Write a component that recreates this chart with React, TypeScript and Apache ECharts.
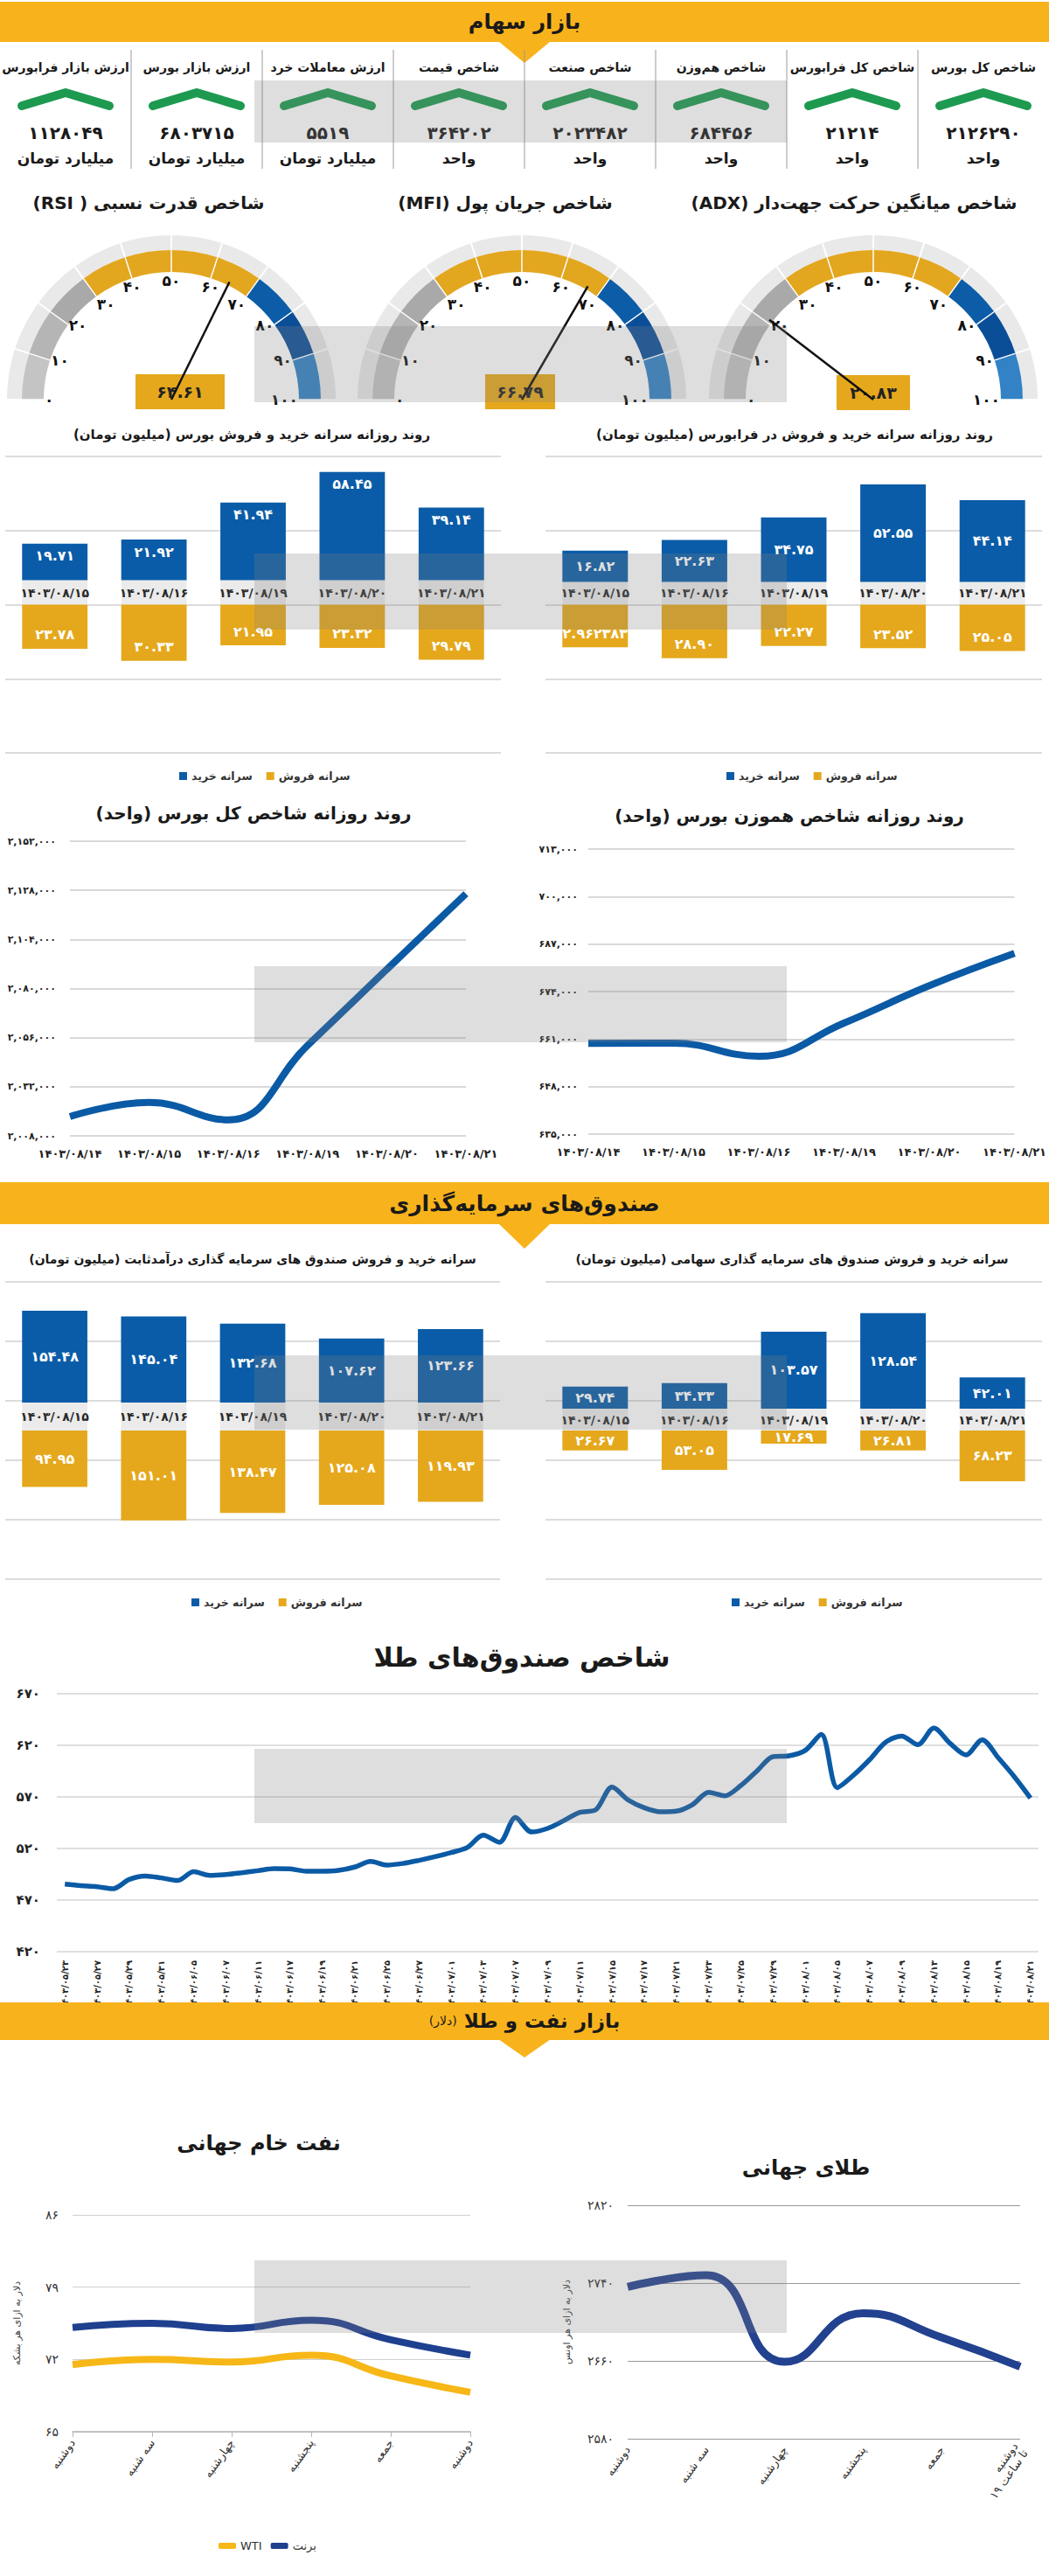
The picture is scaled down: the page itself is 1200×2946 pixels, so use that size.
import React, { useEffect, useRef } from 'react';
import * as echarts from 'echarts';

const W = 1200;
const H = 2946;
const FONT = '"DejaVu Sans", sans-serif';
const BLUE = '#0a5ca8';
const GOLD = '#e5a81c';
const YELLOW = '#f8b31c';
const GREEN = '#1d9a50';
const BUY = 'سرانه خرید';
const SELL = 'سرانه فروش';

// ---------- data ----------
const kpiTitles = ['شاخص کل بورس', 'شاخص کل فرابورس', 'شاخص هم‌وزن', 'شاخص صنعت', 'شاخص قیمت', 'ارزش معاملات خرد', 'ارزش بازار بورس', 'ارزش بازار فرابورس'];
const kpiValues = [2126290, 21214, 684456, 2023482, 364202, 5519, 6803715, 1128049];
const kpiUnits = ['واحد', 'واحد', 'واحد', 'واحد', 'واحد', 'میلیارد تومان', 'میلیارد تومان', 'میلیارد تومان'];

const gaugeTitles = ['شاخص قدرت نسبی ( RSI)', 'شاخص جریان پول (MFI)', 'شاخص میانگین حرکت جهت‌دار (ADX)'];
const gaugeValues = [64.61, 66.79, 20.83];

const tradeDates = ['1403/08/15', '1403/08/16', '1403/08/19', '1403/08/20', '1403/08/21'];
const bourseBuy = [19.71, 21.92, 41.94, 58.45, 39.14];
const bourseSell = [23.78, 30.33, 21.95, 23.32, 29.79];
const faraBuy = [16.82, 22.63, 34.75, 52.55, 44.14];
const faraSell = [22.9623836, 28.9, 22.27, 23.52, 25.05];
const fixedBuy = [154.48, 145.04, 132.68, 107.62, 123.66];
const fixedSell = [94.95, 151.01, 138.47, 125.08, 119.93];
const equityBuy = [29.74, 34.33, 103.57, 128.54, 42.01];
const equitySell = [26.67, 53.05, 17.69, 26.81, 68.23];

const indexDates = ['1403/08/14', '1403/08/15', '1403/08/16', '1403/08/19', '1403/08/20', '1403/08/21'];
const totalIndex = [2017400, 2024300, 2015800, 2052200, 2089300, 2126290];
const equalIndex = [659850, 659900, 656300, 665400, 675600, 684456];

const goldFundDates = ['1403/05/23', '1403/05/24', '1403/05/27', '1403/05/28', '1403/05/29', '1403/05/30', '1403/05/31', '1403/06/03', '1403/06/05', '1403/06/06', '1403/06/07', '1403/06/10', '1403/06/11', '1403/06/14', '1403/06/17', '1403/06/18', '1403/06/19', '1403/06/20', '1403/06/21', '1403/06/24', '1403/06/25', '1403/06/26', '1403/06/27', '1403/06/31', '1403/07/01', '1403/07/02', '1403/07/03', '1403/07/04', '1403/07/07', '1403/07/08', '1403/07/09', '1403/07/10', '1403/07/11', '1403/07/14', '1403/07/15', '1403/07/16', '1403/07/17', '1403/07/18', '1403/07/21', '1403/07/22', '1403/07/23', '1403/07/24', '1403/07/25', '1403/07/28', '1403/07/29', '1403/07/30', '1403/08/01', '1403/08/04', '1403/08/05', '1403/08/06', '1403/08/07', '1403/08/08', '1403/08/09', '1403/08/12', '1403/08/13', '1403/08/14', '1403/08/15', '1403/08/16', '1403/08/19', '1403/08/20', '1403/08/21'];
const goldFundIndex = [485.5, 484, 483, 481, 490, 493.4, 491.5, 489, 497.5, 494, 494.8, 496.5, 498.5, 500.5, 500.2, 498, 498, 498.8, 502, 507.5, 504, 505.5, 508.5, 512, 516, 521, 532.9, 526, 550, 536, 539.5, 547, 555, 557.6, 579.6, 567, 559.5, 555.6, 556.2, 562.5, 574.5, 571, 581, 595, 609, 609.8, 615, 630.5, 579, 591, 606, 623, 629, 620.6, 636.7, 622, 610.7, 625.4, 607.9, 589.5, 568.9];

const oilDays = ['دوشنبه', 'سه شنبه', 'چهارشنبه', 'پنجشنبه', 'جمعه', 'دوشنبه'];
const brent = [75.1, 75.5, 75.0, 75.8, 73.9, 72.42];
const wti = [71.5, 72.0, 71.75, 72.4, 70.4, 68.82];
const goldDays = ['دوشنبه', 'سه شنبه', 'چهارشنبه', 'پنجشنبه', 'جمعه', 'دوشنبه|تا ساعت 19'];
const goldPrice = [2736, 2748, 2659, 2709, 2684, 2654];
const goldLastNote = 2621;

// ---------- helpers ----------
const FA = '۰۱۲۳۴۵۶۷۸۹';
const fa = (s: string | number) => String(s).replace(/[0-9]/g, (d) => FA[+d]);
const rtl = (s: string) => '\u202B' + s + '\u202C';
const fmt = (v: number) => {
  const s = String(v);
  const d = s.includes('.') ? s.split('.')[1].length : 0;
  return d >= 2 ? s : v.toFixed(2);
};
const font = (size: number, weight = 'bold') => `${weight} ${size}px ${FONT}`;
const txt = (text: string, x: number, y: number, size: number, extra: any = {}) => ({
  type: 'text',
  x,
  y,
  z: 10,
  silent: true,
  style: {
    text,
    fill: extra.color || '#1a1a1a',
    font: font(size, extra.weight || 'bold'),
    align: extra.align || 'center',
    verticalAlign: 'middle',
    rich: extra.rich,
  },
});

function buildOption() {
  const grid: any[] = [];
  const xAxis: any[] = [];
  const yAxis: any[] = [];
  const series: any[] = [];
  const legend: any[] = [];
  const graphic: any[] = [];

  // ---------- section headers ----------
  const header = (y0: number, y1: number, apex: number) => {
    graphic.push({ type: 'rect', shape: { x: 0, y: y0, width: W, height: y1 - y0 }, style: { fill: YELLOW }, z: 5, silent: true });
    graphic.push({ type: 'polygon', shape: { points: [[570, y1 - 1], [630, y1 - 1], [600, apex]] }, style: { fill: YELLOW }, z: 5, silent: true });
  };
  header(2, 48, 72);
  graphic.push(txt(rtl('بازار سهام'), 600, 25, 24));
  header(1352, 1400, 1428);
  graphic.push(txt(rtl('صندوق‌های سرمایه‌گذاری'), 600, 1376, 25));
  header(2290, 2333, 2353);
  graphic.push(
    txt('{s|' + rtl('(دلار)') + '} ' + rtl('بازار نفت و طلا'), 600, 2311, 23, {
      rich: { s: { font: font(14, 'normal'), fill: '#1a1a1a' } },
    })
  );

  // ---------- KPI row ----------
  for (let k = 1; k < 8; k++) {
    graphic.push({ type: 'line', shape: { x1: 150 * k, y1: 57, x2: 150 * k, y2: 193 }, style: { stroke: '#9a9a9a', lineWidth: 1 }, z: 5, silent: true });
  }
  kpiTitles.forEach((t, i) => {
    const cx = W - 75 - 150 * i;
    graphic.push(txt(rtl(t), cx, 77, 14));
    graphic.push({
      type: 'polyline',
      shape: { points: [[cx - 50, 121], [cx, 106], [cx + 50, 121]] },
      style: { stroke: GREEN, lineWidth: 10, lineCap: 'round', lineJoin: 'round', fill: null },
      z: 6,
      silent: true,
    });
    graphic.push(txt(fa(kpiValues[i]), cx, 152, 20));
    graphic.push(txt(rtl(kpiUnits[i]), cx, 181, 17));
  });

  // ---------- gauges ----------
  const gaugeCx = [196, 597, 999];
  const gaugeTitleX = [170, 578, 977];
  const detailOff = [[10, -9], [-2, -9], [0, -8]];
  const detailW = [82, 60, 64];
  const bands = [
    [0.1, '#c4c4c4'],
    [0.2, '#b5b5b5'],
    [0.3, '#a9a9a9'],
    [0.7, '#e3a61f'],
    [0.8, '#0d5ca7'],
    [0.9, '#0b4e98'],
    [1, '#3282c5'],
  ];
  gaugeValues.forEach((v, i) => {
    graphic.push(txt(rtl(gaugeTitles[i]), gaugeTitleX[i], 232, 20));
    const base = {
      type: 'gauge',
      center: [gaugeCx[i], 457],
      startAngle: 180,
      endAngle: 0,
      min: 0,
      max: 100,
      splitNumber: 10,
      axisTick: { show: false },
      anchor: { show: false },
      title: { show: false },
    };
    series.push({
      ...base,
      radius: 188,
      axisLine: { lineStyle: { width: 17, color: [[1, '#e9e9e9']] } },
      splitLine: { show: true, length: 17, distance: -17, lineStyle: { color: '#ffffff', width: 2 } },
      axisLabel: { show: false },
      pointer: { show: false },
      detail: { show: false },
      silent: true,
      data: [{ value: 0 }],
    });
    series.push({
      ...base,
      radius: 171,
      axisLine: { lineStyle: { width: 25, color: bands } },
      splitLine: { show: true, length: 25, distance: -25, lineStyle: { color: '#ffffff', width: 1.5 } },
      axisLabel: { show: true, distance: 26, color: '#111', fontSize: 17, fontWeight: 'bold', fontFamily: FONT, formatter: (x: number) => fa(x) },
      pointer: { show: true, icon: 'rect', length: 150, width: 2.5, itemStyle: { color: '#111' } },
      detail: {
        show: true,
        offsetCenter: detailOff[i],
        width: detailW[i],
        height: 30,
        lineHeight: 30,
        backgroundColor: GOLD,
        color: '#222',
        fontSize: 19,
        fontWeight: 'bold',
        fontFamily: FONT,
        formatter: (x: number) => fa(x.toFixed(2)),
      },
      data: [{ value: v }],
    });
  });

  // ---------- stacked buy/sell bar charts ----------
  const addBar = (o: any) => {
    const g = grid.length;
    grid.push({ left: o.left, top: o.top, width: o.width, height: o.height });
    const xi = xAxis.length;
    xAxis.push({ type: 'category', gridIndex: g, data: tradeDates, show: false });
    const yi = yAxis.length;
    yAxis.push({ type: 'value', gridIndex: g, min: -o.range, max: o.range, show: false });
    yAxis.push({
      type: 'value',
      gridIndex: g,
      min: 0,
      max: o.lines,
      interval: 1,
      position: 'left',
      axisLine: { show: false },
      axisTick: { show: false },
      axisLabel: { show: false },
      splitLine: { show: true, lineStyle: { color: '#d0d0d0', width: 1.5 } },
    });
    const stack = 'st' + g;
    series.push({
      type: 'bar',
      name: '_band',
      xAxisIndex: xi,
      yAxisIndex: yi,
      stack,
      barWidth: '66%',
      data: tradeDates.map(() => o.band),
      itemStyle: { color: '#ebebeb' },
      label: { show: true, position: 'inside', formatter: (p: any) => fa(p.name), color: '#2a2a2a', fontSize: 14, fontWeight: 'bold', fontFamily: FONT },
      silent: true,
    });
    series.push({
      type: 'bar',
      name: BUY,
      xAxisIndex: xi,
      yAxisIndex: yi,
      stack,
      barWidth: '66%',
      data: o.buy,
      itemStyle: { color: BLUE },
      label: { show: true, position: o.buyPos, distance: o.buyDist, formatter: (p: any) => fa(fmt(p.value)), color: '#fff', fontSize: 16, fontWeight: 'bold', fontFamily: FONT },
    });
    series.push({
      type: 'bar',
      name: SELL,
      xAxisIndex: xi,
      yAxisIndex: yi,
      stack,
      barWidth: '66%',
      data: o.sell.map((v: number) => -v),
      itemStyle: { color: GOLD },
      label: { show: true, position: o.sellPos, distance: o.sellDist, formatter: (p: any) => fa(fmt(-p.value)), color: '#fff', fontSize: 16, fontWeight: 'bold', fontFamily: FONT },
    });
    legend.push({
      data: [BUY, SELL],
      left: o.legendLeft,
      top: o.legendTop,
      icon: 'rect',
      itemWidth: 9,
      itemHeight: 9,
      itemGap: 16,
      selectedMode: false,
      textStyle: { fontFamily: FONT, fontSize: 12.5, fontWeight: 'bold', color: '#333' },
    });
    graphic.push(txt(rtl(o.title), o.titleX, o.titleY, o.titleSize));
  };

  addBar({
    left: 6, top: 522, width: 567, height: 339, range: 80, lines: 4, band: 13.2,
    buy: bourseBuy, sell: bourseSell, buyPos: 'insideTop', buyDist: 6, sellPos: 'insideBottom', sellDist: 8,
    legendLeft: 200, legendTop: 876,
    title: 'روند روزانه سرانه خرید و فروش بورس (میلیون تومان)', titleX: 288, titleY: 497, titleSize: 15,
  });
  addBar({
    left: 624, top: 522, width: 568, height: 339, range: 80, lines: 4, band: 12.3,
    buy: faraBuy, sell: faraSell, buyPos: 'inside', buyDist: 5, sellPos: 'insideBottom', sellDist: 8,
    legendLeft: 826, legendTop: 876,
    title: 'روند روزانه سرانه خرید و فروش در فرابورس (میلیون تومان)', titleX: 909, titleY: 497, titleSize: 15,
  });
  addBar({
    left: 6, top: 1466, width: 566, height: 340, range: 250, lines: 5, band: 47,
    buy: fixedBuy, sell: fixedSell, buyPos: 'inside', buyDist: 5, sellPos: 'inside', sellDist: 5,
    legendLeft: 214, legendTop: 1821,
    title: 'سرانه خرید و فروش صندوق های سرمایه گذاری درآمدثابت (میلیون تومان)', titleX: 289, titleY: 1440, titleSize: 14,
  });
  addBar({
    left: 624, top: 1466, width: 568, height: 340, range: 200, lines: 5, band: 29.4,
    buy: equityBuy, sell: equitySell, buyPos: 'inside', buyDist: 5, sellPos: 'inside', sellDist: 5,
    legendLeft: 832, legendTop: 1821,
    title: 'سرانه خرید و فروش صندوق های سرمایه گذاری سهامی (میلیون تومان)', titleX: 906, titleY: 1440, titleSize: 14,
  });

  // ---------- index line charts ----------
  const addIndexLine = (o: any) => {
    const g = grid.length;
    grid.push({ left: o.left, top: o.top, width: o.width, height: o.height });
    const xi = xAxis.length;
    xAxis.push({
      type: 'category',
      gridIndex: g,
      data: indexDates,
      boundaryGap: false,
      axisLine: { show: false },
      axisTick: { show: false },
      axisLabel: { interval: 0, formatter: (s: string) => fa(s), color: '#222', fontSize: 13, fontWeight: 'bold', fontFamily: FONT, margin: 14 },
    });
    const yi = yAxis.length;
    yAxis.push({
      type: 'value',
      gridIndex: g,
      min: o.min,
      max: o.max,
      interval: o.interval,
      axisLine: { show: false },
      axisTick: { show: false },
      axisLabel: { formatter: (v: number) => fa(v.toLocaleString('en-US')), color: '#222', fontSize: 11, fontWeight: 'bold', fontFamily: FONT, margin: o.labelMargin },
      splitLine: { lineStyle: { color: '#cccccc', width: 1.5 } },
    });
    series.push({
      type: 'line',
      name: o.name,
      xAxisIndex: xi,
      yAxisIndex: yi,
      data: o.data,
      smooth: 0.45,
      symbol: 'none',
      lineStyle: { color: '#0b5aa5', width: 8 },
    });
    graphic.push(txt(rtl(o.title), o.titleX, o.titleY, 20));
  };
  addIndexLine({
    left: 80, top: 962, width: 453, height: 337, min: 2008000, max: 2152000, interval: 24000, labelMargin: 16,
    data: totalIndex, name: 'شاخص کل', title: 'روند روزانه شاخص کل بورس (واحد)', titleX: 290, titleY: 930,
  });
  addIndexLine({
    left: 673, top: 971, width: 491, height: 326, min: 635000, max: 713000, interval: 13000, labelMargin: 12,
    data: equalIndex, name: 'شاخص هم‌وزن', title: 'روند روزانه شاخص هموزن بورس (واحد)', titleX: 903, titleY: 933,
  });

  // ---------- gold funds index ----------
  {
    const g = grid.length;
    grid.push({ left: 65, top: 1937, width: 1123, height: 295 });
    const xi = xAxis.length;
    xAxis.push({
      type: 'category',
      gridIndex: g,
      data: goldFundDates,
      boundaryGap: true,
      axisLine: { show: false },
      axisTick: { show: false },
      axisLabel: { interval: 1, rotate: 90, formatter: (s: string) => fa(s), color: '#222', fontSize: 10, fontWeight: 'bold', fontFamily: FONT, margin: 10 },
    });
    const yi = yAxis.length;
    yAxis.push({
      type: 'value',
      gridIndex: g,
      min: 420,
      max: 670,
      interval: 50,
      axisLine: { show: false },
      axisTick: { show: false },
      axisLabel: { formatter: (v: number) => fa(v), color: '#222', fontSize: 15, fontWeight: 'bold', fontFamily: FONT, margin: 19 },
      splitLine: { lineStyle: { color: '#d5d5d5', width: 1.5 } },
    });
    series.push({
      type: 'line',
      name: 'شاخص صندوق‌های طلا',
      xAxisIndex: xi,
      yAxisIndex: yi,
      data: goldFundIndex,
      smooth: 0.3,
      symbol: 'none',
      lineStyle: { color: '#0b5aa5', width: 5.5 },
    });
    graphic.push(txt(rtl('شاخص صندوق‌های طلا'), 597, 1895, 30));
  }

  // ---------- oil ----------
  const dayLabel = (s: string) => s.split('|').map((p) => rtl(fa(p))).join('\n');
  {
    const g = grid.length;
    grid.push({ left: 83, top: 2533, width: 455, height: 248 });
    const xi = xAxis.length;
    xAxis.push({
      type: 'category',
      gridIndex: g,
      data: oilDays,
      boundaryGap: false,
      axisLine: { show: true, lineStyle: { color: '#b5b5b5', width: 1.5 } },
      axisTick: { show: true, length: 6, lineStyle: { color: '#b5b5b5' } },
      axisLabel: { interval: 0, rotate: 55, formatter: dayLabel, color: '#333', fontSize: 13, fontFamily: FONT, margin: 10 },
    });
    const yi = yAxis.length;
    yAxis.push({
      type: 'value',
      gridIndex: g,
      min: 65,
      max: 86,
      interval: 7,
      name: rtl('دلار به ازای هر بشکه'),
      nameLocation: 'middle',
      nameRotate: 90,
      nameGap: 58,
      nameTextStyle: { color: '#444', fontSize: 11, fontFamily: FONT },
      axisLine: { show: false },
      axisTick: { show: false },
      axisLabel: { formatter: (v: number) => fa(v), color: '#333', fontSize: 14, fontFamily: FONT, margin: 16 },
      splitLine: { lineStyle: { color: '#cfcfcf', width: 1.2 } },
    });
    const last = wti.length - 1;
    series.push({
      type: 'line',
      name: 'WTI',
      xAxisIndex: xi,
      yAxisIndex: yi,
      data: wti,
      smooth: 0.5,
      symbol: 'none',
      lineStyle: { color: '#f6b717', width: 8 },
      itemStyle: { color: '#f6b717' },
      label: { show: true, position: 'bottom', distance: 4, offset: [-48, 0], formatter: (p: any) => (p.dataIndex === last ? fa(p.value) : ''), color: '#333', fontSize: 14, fontFamily: FONT },
    });
    series.push({
      type: 'line',
      name: 'برنت',
      xAxisIndex: xi,
      yAxisIndex: yi,
      data: brent,
      smooth: 0.5,
      symbol: 'none',
      lineStyle: { color: '#1f3f8f', width: 8 },
      itemStyle: { color: '#1f3f8f' },
      label: { show: true, position: 'top', distance: 20, offset: [-33, 0], formatter: (p: any) => (p.dataIndex === last ? fa(p.value) : ''), color: '#333', fontSize: 14, fontFamily: FONT },
    });
    legend.push({
      data: ['WTI', 'برنت'],
      left: 245,
      top: 2900,
      icon: 'roundRect',
      itemWidth: 20,
      itemHeight: 7,
      itemGap: 10,
      selectedMode: false,
      textStyle: { fontFamily: FONT, fontSize: 13, color: '#333' },
    });
    graphic.push(txt(rtl('نفت خام جهانی'), 296, 2451, 24));
  }

  // ---------- gold ----------
  {
    const g = grid.length;
    grid.push({ left: 718, top: 2522, width: 449, height: 267 });
    const xi = xAxis.length;
    xAxis.push({
      type: 'category',
      gridIndex: g,
      data: goldDays,
      boundaryGap: false,
      axisLine: { show: false },
      axisTick: { show: false },
      axisLabel: { interval: 0, rotate: 55, formatter: dayLabel, color: '#333', fontSize: 13, fontFamily: FONT, margin: 10, lineHeight: 14 },
    });
    const yi = yAxis.length;
    yAxis.push({
      type: 'value',
      gridIndex: g,
      min: 2580,
      max: 2820,
      interval: 80,
      name: rtl('دلار به ازای هر اونس'),
      nameLocation: 'middle',
      nameRotate: 90,
      nameGap: 64,
      nameTextStyle: { color: '#444', fontSize: 11, fontFamily: FONT },
      axisLine: { show: false },
      axisTick: { show: false },
      axisLabel: { formatter: (v: number) => fa(v), color: '#333', fontSize: 14, fontFamily: FONT, margin: 16 },
      splitLine: { lineStyle: { color: '#9a9a9a', width: 1.2 } },
    });
    const last = goldPrice.length - 1;
    series.push({
      type: 'line',
      name: 'طلای جهانی',
      xAxisIndex: xi,
      yAxisIndex: yi,
      data: goldPrice,
      smooth: 0.5,
      symbol: 'none',
      lineStyle: { color: '#22418f', width: 9 },
      itemStyle: { color: '#22418f' },
      label: { show: true, position: 'top', distance: 32, offset: [-12, 0], formatter: (p: any) => (p.dataIndex === last ? fa(goldLastNote) : ''), color: '#222', fontSize: 15, fontFamily: FONT },
    });
    graphic.push(txt(rtl('طلای جهانی'), 922, 2479, 24));
  }

  // ---------- watermark bands ----------
  [[92, 163], [373, 460], [633, 720], [1105, 1192], [1550, 1635], [2000, 2085], [2585, 2668]].forEach(([y0, y1]) => {
    graphic.push({ type: 'rect', shape: { x: 291, y: y0, width: 609, height: y1 - y0 }, style: { fill: 'rgba(128,128,128,0.26)' }, z: 100, silent: true });
  });

  return {
    animation: false,
    backgroundColor: '#ffffff',
    textStyle: { fontFamily: FONT },
    grid,
    xAxis,
    yAxis,
    legend,
    series,
    graphic,
  };
}

export default function App() {
  const ref = useRef<HTMLDivElement>(null);
  useEffect(() => {
    document.body.style.margin = '0';
    const chart = echarts.init(ref.current as HTMLDivElement, null, { renderer: 'svg', width: W, height: H });
    chart.setOption(buildOption() as any);
    return () => chart.dispose();
  }, []);
  return <div ref={ref} style={{ width: W, height: H, background: '#fff' }} />;
}
